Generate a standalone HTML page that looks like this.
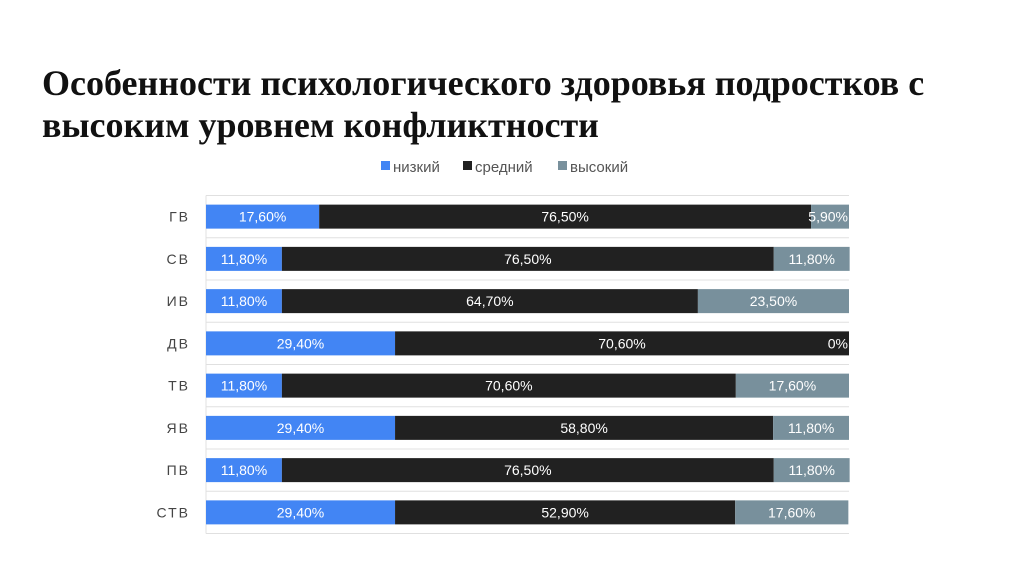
<!DOCTYPE html>
<html><head><meta charset="utf-8"><style>
body{margin:0;width:1024px;height:574px;background:#fff;overflow:hidden}
h1{position:absolute;left:42px;top:62px;margin:0;font:bold 36px/42px "Liberation Serif",serif;color:#111;width:940px;white-space:nowrap}
svg{position:absolute;left:0;top:0}
</style></head><body>
<h1>Особенности психологического здоровья подростков с<br>высоким уровнем конфликтности</h1>
<svg width="1024" height="574" font-family="Liberation Sans, sans-serif">
<g id="legend" font-size="15" fill="#555">
 <g><rect x="381" y="161" width="9" height="9" fill="#4285f4"/><text x="393" y="172">низкий</text></g>
 <g><rect x="463" y="161" width="9" height="9" fill="#212121"/><text x="475" y="172">средний</text></g>
 <g><rect x="558" y="161" width="9" height="9" fill="#78909c"/><text x="570" y="172">высокий</text></g>
</g>
<g id="plot"></g>
</svg>
<script>
const categories=["ГВ","СВ","ИВ","ДВ","ТВ","ЯВ","ПВ","СТВ"];
const low=[17.6,11.8,11.8,29.4,11.8,29.4,11.8,29.4];
const mid=[76.5,76.5,64.7,70.6,70.6,58.8,76.5,52.9];
const high=[5.9,11.8,23.5,0,17.6,11.8,11.8,17.6];
const colors=["#4285f4","#212121","#78909c"];
const X0=206,X1=849,Y0=195.5,Y1=533.5;
const band=(Y1-Y0)/categories.length;
const xs=v=>X0+v/100*(X1-X0);
const ys=i=>Y0+band*i+band/2;
const NS="http://www.w3.org/2000/svg";
const g=document.getElementById('plot');
function mk(t,a){const e=document.createElementNS(NS,t);for(const k in a)e.setAttribute(k,a[k]);g.appendChild(e);return e;}
for(let i=0;i<=categories.length;i++){
 const l=mk('line',{x1:X0,x2:X1,y1:Y0+band*i,y2:Y0+band*i,stroke:'#e0e0e0','stroke-width':1});
 
 
}
const ax=mk('line',{x1:X0,x2:X0,y1:Y0,y2:Y1,stroke:'#e0e0e0'});


const fmt=v=>v.toFixed(2).replace('.',',')+'%';
categories.forEach((c,i)=>{
 const cy=ys(i);
 const t=mk('text',{x:190,y:cy+5,'text-anchor':'end','font-size':14,fill:'#444','letter-spacing':'2'});
 t.textContent=c;
 
 
 let acc=0;
 [low[i],mid[i],high[i]].forEach((v,s)=>{
  const xa=xs(acc),xb=xs(acc+v);acc+=v;
  const r=mk('rect',{x:xa,y:cy-12,width:Math.max(0,xb-xa),height:24,fill:colors[s]});
  
  
  const lbl=mk('text',{x:v<8?xb-1:(xa+xb)/2,y:cy+5,'text-anchor':v<8?'end':'middle','font-size':14,fill:'#fff'});
  lbl.textContent=fmt(v).replace(/^0,00%$/,'0%');
  
  
 });
});
</script>
</body></html>
